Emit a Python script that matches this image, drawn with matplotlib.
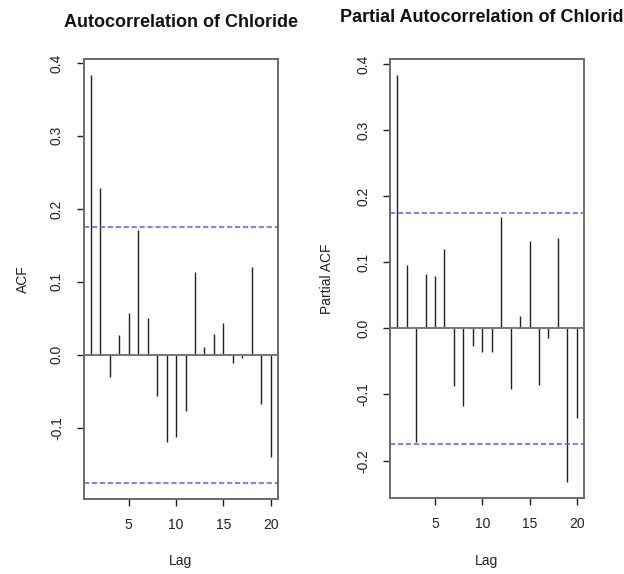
import numpy as np
import matplotlib
matplotlib.use("Agg")
import matplotlib.pyplot as plt

plt.rcParams['font.family'] = ['Liberation Sans', 'DejaVu Sans']

lags = list(range(1, 21))
acf_vals = [0.383, 0.229, -0.030, 0.027, 0.057, 0.171, 0.050, -0.057, -0.120, -0.113,
            -0.077, 0.113, 0.010, 0.028, 0.043, -0.011, -0.004, 0.120, -0.067, -0.140]
pacf_vals = [0.383, 0.096, -0.172, 0.082, 0.079, 0.120, -0.087, -0.117, -0.026, -0.036,
             -0.036, 0.168, -0.092, 0.019, 0.132, -0.086, -0.014, 0.137, -0.232, -0.136]
ci = 0.1753
titles = ["Autocorrelation of Chloride", "Partial Autocorrelation of Chloride"]
ylabels = ["ACF", "Partial ACF"]
xticks = [5, 10, 15, 20]

fig = plt.figure(figsize=(6.24, 5.74), dpi=100)
W, H = 624, 574

def px_axes(x0, x1, ytop, ybot):
    return fig.add_axes([x0 / W, 1 - ybot / H, (x1 - x0) / W, (ybot - ytop) / H])

axes = [px_axes(83.7, 277.9, 59, 499), px_axes(390, 584, 59, 498)]
title_y = [22.5, 18.0]
ylabel_x = [23, 327]

for i, (ax, vals) in enumerate(zip(axes, [acf_vals, pacf_vals])):
    allv = vals + [ci, -ci]
    lo, hi = min(allv), max(allv)
    r = hi - lo
    ax.set_ylim(lo - 0.04 * r, hi + 0.04 * r)
    ax.set_xlim(1 - 0.04 * 19, 20 + 0.04 * 19)
    ax.vlines(lags, 0, vals, color='#222222', lw=1.0)
    ax.axhline(0, color='#777777', lw=1.4)
    for c in (ci, -ci):
        ax.axhline(c, color='#5a5aff', lw=1.1, linestyle=(0, (3.4, 1.8)))
    for s in ax.spines.values():
        s.set_color('#6a6a6a')
        s.set_linewidth(1.4)
    ax.set_xticks(xticks)
    ax.set_xticklabels([str(t) for t in xticks])
    yt = [t for t in np.round(np.arange(-0.3, 0.41, 0.1), 1) if ax.get_ylim()[0] <= t <= ax.get_ylim()[1]]
    ax.set_yticks(yt)
    ax.set_yticklabels([f"{t:.1f}" for t in yt], rotation=90, va='center')
    ax.tick_params(axis='both', direction='out', length=5.2, width=1.0, color='#222222',
                   labelsize=10, labelcolor='#222222')
    ax.tick_params(axis='x', pad=8.5)
    ax.tick_params(axis='y', pad=9)
    cx = (ax.get_position().x0 + ax.get_position().x1) / 2
    fig.text(cx, 1 - title_y[i] / H, titles[i], ha='center', va='center',
             fontsize=13, fontweight='bold', color='#111111')
    fig.text(ylabel_x[i] / W, 1 - 0.5 * (59 + 499) / H, ylabels[i], rotation=90,
             ha='center', va='center', fontsize=10, color='#222222')
    fig.text(cx, 1 - 561.5 / H, "Lag", ha='center', va='center', fontsize=10, color='#222222')

fig.savefig("out.png", dpi=100)
